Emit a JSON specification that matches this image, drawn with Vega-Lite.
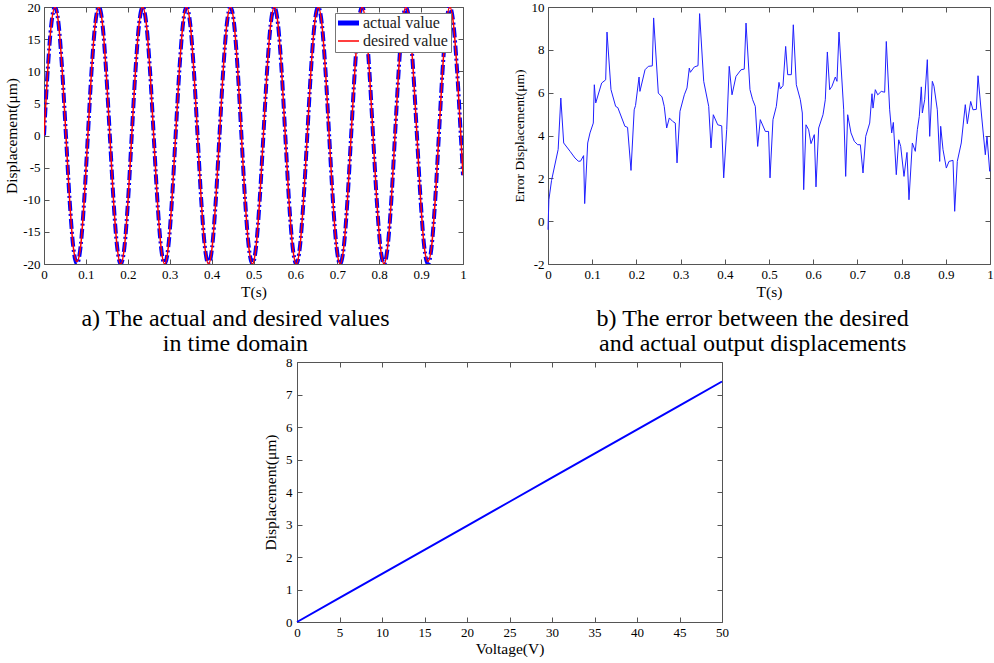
{
  "$schema": "https://vega.github.io/schema/vega-lite/v6.json",
  "padding": {"left": 4, "top": 1, "right": 0, "bottom": 0},
  "background": "white",
  "config": {
    "font": "Liberation Serif",
    "view": {"stroke": null},
    "axis": {
      "grid": false,
      "domainColor": "#555",
      "tickColor": "#555",
      "tickSize": -5,
      "labelPadding": 9,
      "labelFont": "Liberation Serif",
      "titleFont": "Liberation Serif",
      "labelFontSize": 13,
      "labelColor": "#000",
      "titleColor": "#000",
      "titleFontWeight": "normal",
      "titleFontSize": 15.5,
      "labelFlush": false,
      "labelOverlap": false
    }
  },
  "datasets": {
    "sine": [
      {"t":0,"a":0,"d":0},{"t":0.0087,"a":10,"d":10},{"t":0.0175,"a":17.32,"d":17.32},{"t":0.0262,"a":20,"d":20},{"t":0.0349,"a":17.32,"d":17.32},{"t":0.0436,"a":10,"d":10},{"t":0.0524,"a":0,"d":0},{"t":0.0611,"a":-10,"d":-10},{"t":0.0698,"a":-17.32,"d":-17.32},{"t":0.0785,"a":-20,"d":-19.6},{"t":0.0873,"a":-17.32,"d":-17.32},{"t":0.096,"a":-10,"d":-10},
      {"t":0.1047,"a":0,"d":0},{"t":0.1134,"a":10,"d":10},{"t":0.1222,"a":17.32,"d":17.32},{"t":0.1309,"a":20,"d":20},{"t":0.1396,"a":17.32,"d":17.32},{"t":0.1483,"a":10,"d":10},{"t":0.1571,"a":0,"d":0},{"t":0.1658,"a":-10,"d":-10},{"t":0.1745,"a":-17.32,"d":-17.32},{"t":0.1832,"a":-20,"d":-20},{"t":0.192,"a":-17.32,"d":-17.32},{"t":0.2007,"a":-10,"d":-10},
      {"t":0.2094,"a":0,"d":0},{"t":0.2182,"a":10,"d":10},{"t":0.2269,"a":17.32,"d":17.32},{"t":0.2356,"a":20,"d":20},{"t":0.2443,"a":17.32,"d":17.32},{"t":0.2531,"a":10,"d":10},{"t":0.2618,"a":0,"d":0},{"t":0.2705,"a":-10,"d":-10},{"t":0.2792,"a":-17.32,"d":-17.32},{"t":0.288,"a":-20,"d":-20},{"t":0.2967,"a":-17.32,"d":-17.32},{"t":0.3054,"a":-10,"d":-10},
      {"t":0.3141,"a":0,"d":0},{"t":0.3229,"a":10,"d":10},{"t":0.3316,"a":17.32,"d":17.32},{"t":0.3403,"a":20,"d":20},{"t":0.349,"a":17.32,"d":17.32},{"t":0.3578,"a":10,"d":10},{"t":0.3665,"a":0,"d":0},{"t":0.3752,"a":-10,"d":-10},{"t":0.3839,"a":-17.32,"d":-17.32},{"t":0.3927,"a":-20,"d":-20},{"t":0.4014,"a":-17.32,"d":-17.32},{"t":0.4101,"a":-10,"d":-10},
      {"t":0.4188,"a":0,"d":0},{"t":0.4276,"a":10,"d":10},{"t":0.4363,"a":17.32,"d":17.32},{"t":0.445,"a":20,"d":20},{"t":0.4538,"a":17.32,"d":17.32},{"t":0.4625,"a":10,"d":10},{"t":0.4712,"a":0,"d":0},{"t":0.4799,"a":-10,"d":-10},{"t":0.4887,"a":-17.32,"d":-17.32},{"t":0.4974,"a":-20,"d":-20},{"t":0.5061,"a":-17.32,"d":-17.32},{"t":0.5148,"a":-10,"d":-10},
      {"t":0.5236,"a":0,"d":0},{"t":0.5323,"a":10,"d":10},{"t":0.541,"a":17.32,"d":17.32},{"t":0.5497,"a":20,"d":20},{"t":0.5585,"a":17.32,"d":17.32},{"t":0.5672,"a":10,"d":10},{"t":0.5759,"a":0,"d":0},{"t":0.5846,"a":-10,"d":-10},{"t":0.5934,"a":-17.32,"d":-17.32},{"t":0.6021,"a":-20,"d":-20},{"t":0.6108,"a":-17.32,"d":-17.32},{"t":0.6195,"a":-10,"d":-10},
      {"t":0.6283,"a":0,"d":0},{"t":0.637,"a":10,"d":10},{"t":0.6457,"a":17.32,"d":17.32},{"t":0.6544,"a":20,"d":20},{"t":0.6632,"a":17.32,"d":17.32},{"t":0.6719,"a":10,"d":10},{"t":0.6806,"a":0,"d":0},{"t":0.6894,"a":-10,"d":-10},{"t":0.6981,"a":-17.32,"d":-17.32},{"t":0.7068,"a":-20,"d":-20},{"t":0.7155,"a":-17.32,"d":-17.32},{"t":0.7243,"a":-10,"d":-10},
      {"t":0.733,"a":0,"d":0},{"t":0.7417,"a":10,"d":10},{"t":0.7504,"a":17.32,"d":17.32},{"t":0.7592,"a":20,"d":20},{"t":0.7679,"a":17.32,"d":17.32},{"t":0.7766,"a":10,"d":10},{"t":0.7853,"a":0,"d":0},{"t":0.7941,"a":-10,"d":-10},{"t":0.8028,"a":-17.32,"d":-17.32},{"t":0.8115,"a":-20,"d":-20},{"t":0.8202,"a":-17.32,"d":-17.32},{"t":0.829,"a":-10,"d":-10},
      {"t":0.8377,"a":0,"d":0},{"t":0.8464,"a":10,"d":10},{"t":0.8551,"a":17.32,"d":17.32},{"t":0.8639,"a":20,"d":20},{"t":0.8726,"a":17.32,"d":17.32},{"t":0.8813,"a":10,"d":10},{"t":0.8901,"a":0,"d":0},{"t":0.8988,"a":-10,"d":-10},{"t":0.9075,"a":-17.32,"d":-17.32},{"t":0.9162,"a":-20,"d":-19.6},{"t":0.925,"a":-17.32,"d":-17.32},{"t":0.9337,"a":-10,"d":-10},
      {"t":0.9424,"a":0,"d":0},{"t":0.9511,"a":10,"d":10},{"t":0.9599,"a":17.32,"d":17.32},{"t":0.9686,"a":20,"d":20},{"t":0.9773,"a":17.32,"d":17.32},{"t":0.986,"a":10,"d":10},{"t":0.9948,"a":0,"d":0},{"t":1,"a":-6.18,"d":-6.18}
    ],
    "err": [
      {"t":0,"e":-0.4},{"t":0.002,"e":1.0},{"t":0.008,"e":1.9},{"t":0.023,"e":3.35},{"t":0.029,"e":5.75},{"t":0.0355,"e":3.65},{"t":0.05,"e":3.26},{"t":0.061,"e":2.95},{"t":0.0686,"e":2.8},{"t":0.0735,"e":2.8},{"t":0.0805,"e":3.06},{"t":0.083,"e":0.82},{"t":0.0898,"e":3.65},{"t":0.095,"e":4.12},{"t":0.1025,"e":4.58},{"t":0.1048,"e":6.37},{"t":0.108,"e":5.52},{"t":0.1214,"e":6.45},{"t":0.1305,"e":6.6},{"t":0.1335,"e":8.83},{"t":0.1425,"e":6.14},{"t":0.153,"e":5.36},{"t":0.158,"e":5.3},{"t":0.174,"e":4.43},{"t":0.18,"e":4.38},{"t":0.1878,"e":2.37},{"t":0.195,"e":5.2},{"t":0.198,"e":5.4},{"t":0.206,"e":6.73},{"t":0.208,"e":6.06},{"t":0.2195,"e":7.07},{"t":0.227,"e":7.23},{"t":0.236,"e":7.25},{"t":0.239,"e":9.49},{"t":0.2496,"e":5.98},{"t":0.258,"e":5.8},{"t":0.263,"e":5.36},{"t":0.2685,"e":4.35},{"t":0.2745,"e":4.82},{"t":0.282,"e":4.66},{"t":0.288,"e":4.58},{"t":0.2919,"e":2.72},{"t":0.2986,"e":5.13},{"t":0.3084,"e":5.9},{"t":0.3145,"e":6.22},{"t":0.3197,"e":7.15},{"t":0.322,"e":6.95},{"t":0.331,"e":7.2},{"t":0.3394,"e":7.26},{"t":0.343,"e":9.69},{"t":0.3523,"e":6.53},{"t":0.3636,"e":5.36},{"t":0.3688,"e":3.42},{"t":0.374,"e":4.97},{"t":0.384,"e":4.5},{"t":0.393,"e":4.45},{"t":0.3975,"e":2.02},{"t":0.4043,"e":4.27},{"t":0.41,"e":7.23},{"t":0.4163,"e":5.9},{"t":0.4253,"e":6.76},{"t":0.4367,"e":7.07},{"t":0.444,"e":7.1},{"t":0.448,"e":9.25},{"t":0.457,"e":6.14},{"t":0.463,"e":5.67},{"t":0.469,"e":5.36},{"t":0.4744,"e":3.49},{"t":0.4803,"e":4.74},{"t":0.4917,"e":4.19},{"t":0.499,"e":4.19},{"t":0.5023,"e":2.02},{"t":0.509,"e":4.74},{"t":0.5166,"e":5.36},{"t":0.5226,"e":6.48},{"t":0.5256,"e":6.17},{"t":0.5317,"e":6.33},{"t":0.5377,"e":8.16},{"t":0.5423,"e":6.84},{"t":0.5505,"e":6.84},{"t":0.555,"e":9.17},{"t":0.5618,"e":6.37},{"t":0.5709,"e":5.67},{"t":0.5754,"e":5.05},{"t":0.5785,"e":1.47},{"t":0.5837,"e":4.5},{"t":0.5897,"e":4.27},{"t":0.595,"e":3.62},{"t":0.6025,"e":4.04},{"t":0.6063,"e":1.6},{"t":0.6124,"e":4.35},{"t":0.6222,"e":4.97},{"t":0.6274,"e":5.67},{"t":0.632,"e":7.9},{"t":0.6373,"e":6.14},{"t":0.6425,"e":6.3},{"t":0.65,"e":6.73},{"t":0.6538,"e":6.53},{"t":0.6584,"e":8.83},{"t":0.669,"e":5.2},{"t":0.6735,"e":2.09},{"t":0.678,"e":4.97},{"t":0.6855,"e":4.12},{"t":0.693,"e":3.73},{"t":0.7007,"e":3.57},{"t":0.7066,"e":3.57},{"t":0.7127,"e":2.25},{"t":0.7188,"e":3.96},{"t":0.7278,"e":4.58},{"t":0.733,"e":5.95},{"t":0.7353,"e":5.28},{"t":0.7405,"e":6.14},{"t":0.746,"e":5.9},{"t":0.754,"e":6.06},{"t":0.7617,"e":6.02},{"t":0.7654,"e":8.39},{"t":0.773,"e":5.2},{"t":0.7776,"e":4.12},{"t":0.7813,"e":4.61},{"t":0.788,"e":2.17},{"t":0.7935,"e":3.8},{"t":0.798,"e":3.49},{"t":0.8054,"e":2.09},{"t":0.8122,"e":3.21},{"t":0.8167,"e":1.0},{"t":0.8243,"e":3.65},{"t":0.831,"e":3.26},{"t":0.8356,"e":4.27},{"t":0.84,"e":4.89},{"t":0.8446,"e":6.27},{"t":0.8469,"e":5.05},{"t":0.8522,"e":5.67},{"t":0.8582,"e":7.54},{"t":0.8636,"e":3.96},{"t":0.8695,"e":6.53},{"t":0.8733,"e":6.3},{"t":0.8808,"e":5.2},{"t":0.8862,"e":2.79},{"t":0.8884,"e":4.43},{"t":0.8937,"e":3.34},{"t":0.9012,"e":2.48},{"t":0.9072,"e":2.79},{"t":0.9163,"e":2.84},{"t":0.9201,"e":0.46},{"t":0.926,"e":2.79},{"t":0.935,"e":3.65},{"t":0.9441,"e":5.44},{"t":0.9487,"e":4.55},{"t":0.9563,"e":5.59},{"t":0.9615,"e":5.2},{"t":0.9691,"e":5.22},{"t":0.9729,"e":6.79},{"t":0.9804,"e":5.05},{"t":0.9894,"e":3.1},{"t":0.9932,"e":3.96},{"t":0.9993,"e":2.33},{"t":1,"e":2.4}
    ],
    "volt": [
      {"v":0,"d":0},{"v":5,"d":0.74},{"v":10,"d":1.48},{"v":15,"d":2.22},{"v":20,"d":2.96},{"v":25,"d":3.7},{"v":30,"d":4.44},{"v":35,"d":5.18},{"v":40,"d":5.92},{"v":45,"d":6.66},{"v":50,"d":7.4}
    ],
    "blank": [{"z":0}]
  },
  "spacing": 0,
  "vconcat": [
    {
      "spacing": 45,
      "hconcat": [
        {
          "title": {"text": ["a) The actual and desired values", "in time domain"], "orient": "bottom", "anchor": "middle", "frame": "bounds", "font": "Liberation Serif", "fontSize": 24, "fontWeight": "normal", "lineHeight": 25, "offset": 7, "color": "#000"},
          "width": 419,
          "height": 257,
          "data": {"name": "sine"},
          "layer": [
            {
              "mark": {"type": "line", "interpolate": "monotone", "strokeWidth": 4, "strokeDash": [10, 3, 2, 3], "clip": true},
              "encoding": {
                "x": {"field": "t", "type": "quantitative", "scale": {"domain": [0, 1], "nice": false, "zero": false},
                  "axis": {"orient": "bottom", "values": [0,0.1,0.2,0.3,0.4,0.5,0.6,0.7,0.8,0.9,1], "format": "~g", "title": "T(s)", "titlePadding": 3}},
                "y": {"field": "a", "type": "quantitative", "scale": {"domain": [-20, 20], "nice": false, "zero": false},
                  "axis": {"orient": "left", "values": [-20,-15,-10,-5,0,5,10,15,20], "labelExpr": "replace(datum.label, '\u2212', '-')", "title": "Displacement(μm)", "titlePadding": 3}},
                "color": {"datum": "actual value", "type": "nominal",
                  "scale": {"domain": ["actual value", "desired value"], "range": ["#0000ff", "#ff0000"]},
                  "legend": {"title": null, "orient": "none", "legendX": 291, "legendY": 6, "padding": 3, "fillColor": "white", "strokeColor": "#777",
                    "symbolType": "stroke", "symbolSize": 676, "clipHeight": 14, "rowPadding": 2, "labelOffset": 9,
                    "labelFont": "Liberation Serif", "labelFontSize": 16, "labelColor": "#222",
                    "encode": {"symbols": {"update": {"strokeWidth": {"signal": "datum.value === 'actual value' ? 5 : 1.5"}, "strokeDash": {"value": [1, 0]}}}}}
                }
              }
            },
            {
              "mark": {"type": "line", "interpolate": "monotone", "strokeWidth": 1.5, "clip": true},
              "encoding": {
                "x": {"field": "t", "type": "quantitative", "scale": {"domain": [0, 1], "nice": false, "zero": false},
                  "axis": {"orient": "top", "values": [0,0.1,0.2,0.3,0.4,0.5,0.6,0.7,0.8,0.9,1], "labels": false, "title": null}},
                "y": {"field": "d", "type": "quantitative", "scale": {"domain": [-20, 20], "nice": false, "zero": false},
                  "axis": {"orient": "right", "values": [-20,-15,-10,-5,0,5,10,15,20], "labels": false, "title": null}},
                "color": {"datum": "desired value", "type": "nominal"}
              }
            }
          ],
          "resolve": {"axis": {"x": "independent", "y": "independent"}}
        },
        {
          "title": {"text": ["b) The error between the desired", "and actual output displacements"], "orient": "bottom", "anchor": "middle", "frame": "bounds", "font": "Liberation Serif", "fontSize": 24, "fontWeight": "normal", "lineHeight": 25, "offset": 7, "color": "#000"},
          "width": 442,
          "height": 257,
          "data": {"name": "err"},
          "layer": [
            {
              "mark": {"type": "line", "color": "#2020ff", "strokeWidth": 1},
              "encoding": {
                "x": {"field": "t", "type": "quantitative", "scale": {"domain": [0, 1], "nice": false, "zero": false},
                  "axis": {"orient": "bottom", "values": [0,0.1,0.2,0.3,0.4,0.5,0.6,0.7,0.8,0.9,1], "format": "~g", "title": "T(s)", "titlePadding": 3}},
                "y": {"field": "e", "type": "quantitative", "scale": {"domain": [-2, 10], "nice": false, "zero": false},
                  "axis": {"orient": "left", "values": [-2,0,2,4,6,8,10], "labelExpr": "replace(datum.label, '\u2212', '-')", "title": "Error Displacement(μm)", "titleFontSize": 13.5, "titlePadding": 5}}
              }
            },
            {
              "mark": {"type": "line", "opacity": 0},
              "encoding": {
                "x": {"field": "t", "type": "quantitative", "scale": {"domain": [0, 1], "nice": false, "zero": false},
                  "axis": {"orient": "top", "values": [0,0.1,0.2,0.3,0.4,0.5,0.6,0.7,0.8,0.9,1], "labels": false, "title": null}},
                "y": {"field": "e", "type": "quantitative", "scale": {"domain": [-2, 10], "nice": false, "zero": false},
                  "axis": {"orient": "right", "values": [-2,0,2,4,6,8,10], "labels": false, "title": null}}
              }
            }
          ],
          "resolve": {"axis": {"x": "independent", "y": "independent"}}
        }
      ]
    },
    {
      "spacing": 0,
      "hconcat": [
        {
          "width": 219,
          "height": 1,
          "data": {"name": "blank"},
          "mark": {"type": "point", "opacity": 0}
        },
        {
          "width": 425,
          "height": 260,
          "data": {"name": "volt"},
          "layer": [
            {
              "mark": {"type": "line", "color": "#0000ff", "strokeWidth": 2},
              "encoding": {
                "x": {"field": "v", "type": "quantitative", "scale": {"domain": [0, 50], "nice": false, "zero": false},
                  "axis": {"orient": "bottom", "values": [0,5,10,15,20,25,30,35,40,45,50], "title": "Voltage(V)", "titlePadding": 2}},
                "y": {"field": "d", "type": "quantitative", "scale": {"domain": [0, 8], "nice": false, "zero": false},
                  "axis": {"orient": "left", "values": [0,1,2,3,4,5,6,7,8], "title": "Displacement(μm)", "titlePadding": 7, "labelPadding": 10}}
              }
            },
            {
              "mark": {"type": "line", "opacity": 0},
              "encoding": {
                "x": {"field": "v", "type": "quantitative", "scale": {"domain": [0, 50], "nice": false, "zero": false},
                  "axis": {"orient": "top", "values": [0,5,10,15,20,25,30,35,40,45,50], "labels": false, "title": null}},
                "y": {"field": "d", "type": "quantitative", "scale": {"domain": [0, 8], "nice": false, "zero": false},
                  "axis": {"orient": "right", "values": [0,1,2,3,4,5,6,7,8], "labels": false, "title": null}}
              }
            }
          ],
          "resolve": {"axis": {"x": "independent", "y": "independent"}}
        }
      ]
    }
  ]
}
